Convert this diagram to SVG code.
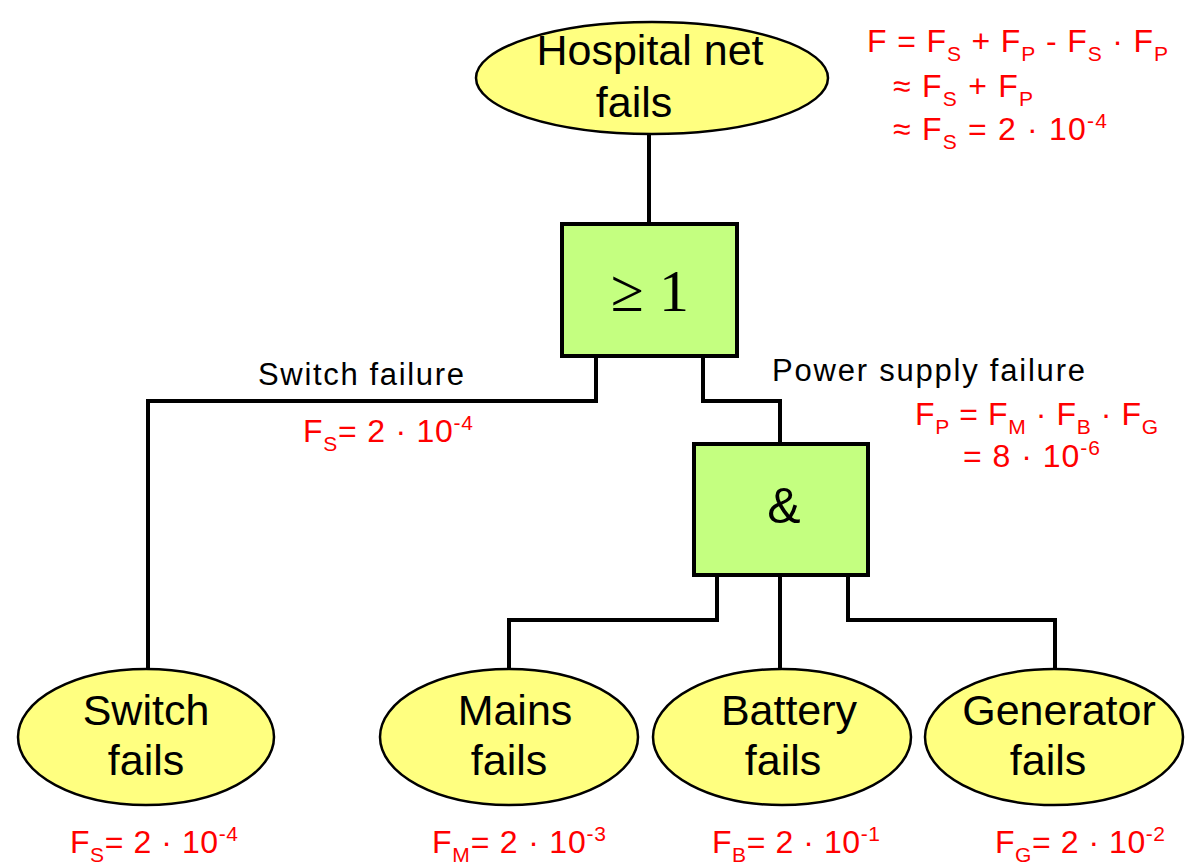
<svg xmlns="http://www.w3.org/2000/svg" width="1187" height="865" viewBox="0 0 1187 865">
  <style>
    .event { fill: #ffff80; stroke: #000; stroke-width: 2.5; }
    .gate { fill: #c4ff80; stroke: #000; stroke-width: 4; }
    .wire { fill: none; stroke: #000; stroke-width: 4; stroke-linejoin: miter; }
    .lbl { font-family: "Liberation Sans", Arial, sans-serif; font-size: 43px; fill: #000; text-anchor: middle; }
    .sym { font-family: "Liberation Serif", "Times New Roman", serif; font-size: 60px; fill: #000; text-anchor: middle; }
    .amp { font-family: "Liberation Sans", Arial, sans-serif; font-size: 50px; fill: #000; text-anchor: middle; }
    .edge { font-family: "Liberation Sans", Arial, sans-serif; font-size: 31px; fill: #000; }
    .eq { font-family: "Liberation Sans", Arial, sans-serif; font-size: 32px; fill: #ff0000; }
    .sub { font-size: 21px; }
  </style>

  <!-- connectors -->
  <g id="connectors">
    <path class="wire" d="M649,134 V224"/>
    <path class="wire" d="M596,356 V401 H148 V668"/>
    <path class="wire" d="M703,356 V401 H780 V444"/>
    <path class="wire" d="M717,575 V620 H509 V668"/>
    <path class="wire" d="M780,575 V668"/>
    <path class="wire" d="M848,575 V620 H1055 V668"/>
  </g>

  <!-- top event -->
  <g id="hospital">
    <ellipse class="event" cx="652" cy="78" rx="176" ry="56"/>
    <text class="lbl" x="650" y="65">Hospital net</text>
    <text class="lbl" x="634" y="117">fails</text>
  </g>

  <!-- OR gate -->
  <g id="or-gate">
    <rect class="gate" x="562" y="224" width="175" height="132"/>
    <text class="sym" x="650" y="311">≥ 1</text>
  </g>

  <!-- AND gate -->
  <g id="and-gate">
    <rect class="gate" x="694" y="444" width="174" height="131"/>
    <text class="amp" x="784" y="523">&amp;</text>
  </g>

  <!-- basic events -->
  <g id="switch">
    <ellipse class="event" cx="146" cy="737" rx="128" ry="68"/>
    <text class="lbl" x="146" y="725">Switch</text>
    <text class="lbl" x="146" y="775">fails</text>
  </g>
  <g id="mains">
    <ellipse class="event" cx="509" cy="737" rx="129" ry="68"/>
    <text class="lbl" x="515" y="725">Mains</text>
    <text class="lbl" x="509" y="775">fails</text>
  </g>
  <g id="battery">
    <ellipse class="event" cx="782" cy="737" rx="129" ry="68"/>
    <text class="lbl" x="789" y="725">Battery</text>
    <text class="lbl" x="783" y="775">fails</text>
  </g>
  <g id="generator">
    <ellipse class="event" cx="1054" cy="737" rx="129" ry="68"/>
    <text class="lbl" x="1059" y="725">Generator</text>
    <text class="lbl" x="1048" y="775">fails</text>
  </g>

  <!-- edge labels -->
  <g id="edge-labels">
    <text class="edge" x="258" y="385" textLength="206" lengthAdjust="spacing">Switch failure</text>
    <text class="edge" x="772" y="381" textLength="313" lengthAdjust="spacing">Power supply failure</text>
  </g>

  <!-- probabilities -->
  <g id="formulas">
    <text class="eq" x="867" y="52" textLength="301" lengthAdjust="spacing">F = F<tspan class="sub" dy="9">S</tspan><tspan dy="-9"> + F</tspan><tspan class="sub" dy="9">P</tspan><tspan dy="-9"> - F</tspan><tspan class="sub" dy="9">S</tspan><tspan dy="-9"> · F</tspan><tspan class="sub" dy="9">P</tspan></text>
    <text class="eq" x="893" y="97" textLength="140" lengthAdjust="spacing">≈ F<tspan class="sub" dy="9">S</tspan><tspan dy="-9"> + F</tspan><tspan class="sub" dy="9">P</tspan></text>
    <text class="eq" x="893" y="140" textLength="214" lengthAdjust="spacing">≈ F<tspan class="sub" dy="9">S</tspan><tspan dy="-9"> = 2 · 10</tspan><tspan class="sub" dy="-12">-4</tspan></text>

    <text class="eq" x="303" y="442" textLength="170" lengthAdjust="spacing">F<tspan class="sub" dy="9">S</tspan><tspan dy="-9">= 2 · 10</tspan><tspan class="sub" dy="-12">-4</tspan></text>

    <text class="eq" x="915" y="425" textLength="243" lengthAdjust="spacing">F<tspan class="sub" dy="9">P</tspan><tspan dy="-9"> = F</tspan><tspan class="sub" dy="9">M</tspan><tspan dy="-9"> · F</tspan><tspan class="sub" dy="9">B</tspan><tspan dy="-9"> · F</tspan><tspan class="sub" dy="9">G</tspan></text>
    <text class="eq" x="963" y="467" textLength="137" lengthAdjust="spacing">= 8 · 10<tspan class="sub" dy="-12">-6</tspan></text>

    <text class="eq" x="70" y="853" textLength="168" lengthAdjust="spacing">F<tspan class="sub" dy="9">S</tspan><tspan dy="-9">= 2 · 10</tspan><tspan class="sub" dy="-12">-4</tspan></text>
    <text class="eq" x="432" y="853" textLength="174" lengthAdjust="spacing">F<tspan class="sub" dy="9">M</tspan><tspan dy="-9">= 2 · 10</tspan><tspan class="sub" dy="-12">-3</tspan></text>
    <text class="eq" x="712" y="853" textLength="168" lengthAdjust="spacing">F<tspan class="sub" dy="9">B</tspan><tspan dy="-9">= 2 · 10</tspan><tspan class="sub" dy="-12">-1</tspan></text>
    <text class="eq" x="995" y="853" textLength="170" lengthAdjust="spacing">F<tspan class="sub" dy="9">G</tspan><tspan dy="-9">= 2 · 10</tspan><tspan class="sub" dy="-12">-2</tspan></text>
  </g>
</svg>
